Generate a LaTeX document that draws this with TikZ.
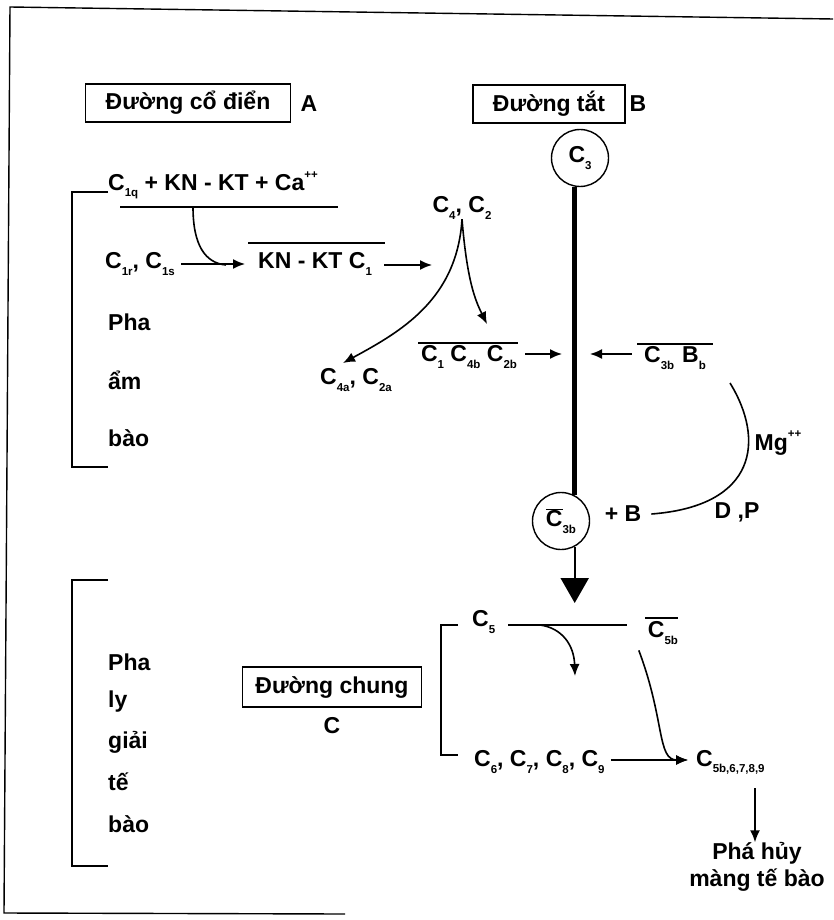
\documentclass[tikz,border=0pt]{standalone}
\usepackage{fontspec}
\setmainfont{Liberation Sans}
\usetikzlibrary{arrows.meta}
\newcommand\lsub[1]{\raisebox{-0.5ex}{\fontsize{11.5}{12}\selectfont #1}}
\newcommand\lsup[1]{\raisebox{1.0ex}{\fontsize{11.5}{12}\selectfont #1}}
\newcommand\obar[1]{\ensuremath{\overline{\mbox{#1}}}}
\begin{document}
\begin{tikzpicture}[x=1pt,y=-1pt,
  every node/.style={font=\bfseries\fontsize{23}{27}\selectfont, inner sep=0pt},
  lbl/.style={draw, line width=1.4pt, minimum height=38pt, inner xsep=6pt},
  ring/.style={draw, circle, line width=1.4pt, minimum size=57pt},
  conn/.style={line width=1.6pt},
  arr/.style={line width=1.6pt, -{Latex[length=12pt,width=10pt]}},
  brk/.style={line width=1.6pt},
]
\useasboundingbox (0,0) rectangle (833,920);
% frame
\draw[line width=1.4pt] (833,19) -- (10,7) -- (4,913) -- (345,914);

% headings
\node[lbl, minimum width=205pt] (boxA) at (188,103) {Đường cổ điển};
\node (A) at (309,104) {A};
\node[lbl, minimum width=152pt] (boxB) at (549,104) {Đường tắt};
\node (B) at (638,104) {B};

% classical pathway
\draw[brk] (108,192) -- (72,192) -- (72,467) -- (108,467);
\node[anchor=west] (c1q) at (108,185) {C\lsub{1q} + KN - KT + Ca\lsup{++}};
\coordinate (u1) at (193,207);
\draw[conn] (120,207) -- (338,207);
\node[anchor=west] (c1rs) at (105,264) {C\lsub{1r}, C\lsub{1s}};
\node[anchor=west] (kn) at (258,264) {KN - KT C\lsub{1}};
\draw[conn] (248,243) -- (385,243);
\draw[arr, shorten <=6pt, shorten >=13pt] (c1rs.east) -- (c1rs.east -| kn.west);
\draw[conn] (u1) .. controls (193,245) and (205,263) .. (226,265);
\coordinate (knout) at (432,265);
\draw[arr] (kn.east |- knout) ++(12pt,0) -- (knout);

\node (c4c2) at (462,208) {C\lsub{4}, C\lsub{2}};
\node (c4a) at (356,380) {C\lsub{4a}, C\lsub{2a}};
\node (c1c4b) at (469,357) {C\lsub{1} C\lsub{4b} C\lsub{2b}};
\draw[conn] (418,343) -- (518,343);
\coordinate (t1) at (343,363);
\coordinate (t2) at (487,324);
\draw[arr] (c4c2.south) .. controls (457,300) and (400,332) .. (t1);
\draw[arr] (c4c2.south) .. controls (467,280) and (475,300) .. (t2);

\node[anchor=west] at (108,322) {Pha};
\node[anchor=west] at (108,380) {ẩm};
\node[anchor=west] at (108,438) {bào};

% alternative pathway
\node[ring] (C3) at (580,158) {C\lsub{3}};
\node[ring] (C3b) at (561,521) {\obar{C}\lsub{3b}};
\draw[line width=5pt] (C3b.62) -- (C3b.62 |- C3.south);
\coordinate (tipA) at (575,603);
\draw[line width=2pt, -{Triangle[length=25pt,width=28pt]}] (C3b.-62) -- (C3b.-62 |- tipA);

\coordinate (in1) at (562,354);
\coordinate (in2) at (590,354);
\draw[arr] (c1c4b.east |- in1) ++(8pt,0) -- (in1);
\node (c3bb) at (675,358) {C\lsub{3b}\hspace{8pt}B\lsub{b}};
\draw[conn] (637,344) -- (713,344);
\draw[arr] (c3bb.west |- in2) ++(-12pt,0) -- (in2);
\node (plusB) at (623,514) {+ B};
\node (mg) at (778,443) {Mg\lsup{++}};
\node (dp) at (737,512) {D ,P};
\coordinate (cs) at (730,383);
\draw[conn] (cs) .. controls (765,440) and (757,506) .. ([xshift=10pt]plusB.east);

% common pathway
\draw[brk] (108,580) -- (72,580) -- (72,866) -- (108,866);
\node[anchor=west] at (108,662) {Pha};
\node[anchor=west] at (108,702) {ly};
\node[anchor=west] at (108,742) {giải};
\node[anchor=west] at (108,782) {tế};
\node[anchor=west] at (108,824) {bào};
\node[lbl, minimum width=179pt, minimum height=40pt] (boxC) at (332,687) {Đường chung};
\node (C) at (332,726) {C};

\draw[brk] (458,625) -- (441,625) -- (441,755) -- (458,755);
\node[anchor=west] (c5) at (472,622) {C\lsub{5}};
\draw[conn] (508,625) -- (627,625);
\coordinate (s5) at (540,625);
\coordinate (t5) at (575,676);
\draw[arr] (s5) .. controls (562,628) and (574,645) .. (t5);
\node (c5b) at (663,633) {C\lsub{5b}};
\draw[conn] (645,618) -- (678,618);
\node[anchor=west] (c6) at (474,762) {C\lsub{6}, C\lsub{7}, C\lsub{8}, C\lsub{9}};
\node[anchor=west] (c59) at (696,762) {C\lsub{5b,6,7,8,9}};
\draw[arr] ([xshift=6pt]c6.east |- 0,760) -- ([xshift=-8pt]c59.west |- 0,760);
\draw[arr] ([yshift=-6pt]c5b.south west) ++(-9pt,0) .. controls (665,720) and (657,760) .. ([xshift=-8pt]c59.west |- 0,760);
\node[align=center, font=\bfseries\fontsize{23}{27}\selectfont] (end) at (757,867) {Phá hủy\\màng tế bào};
\draw[arr] (755,788) -- (end.north -| 755,0);
\end{tikzpicture}
\end{document}
